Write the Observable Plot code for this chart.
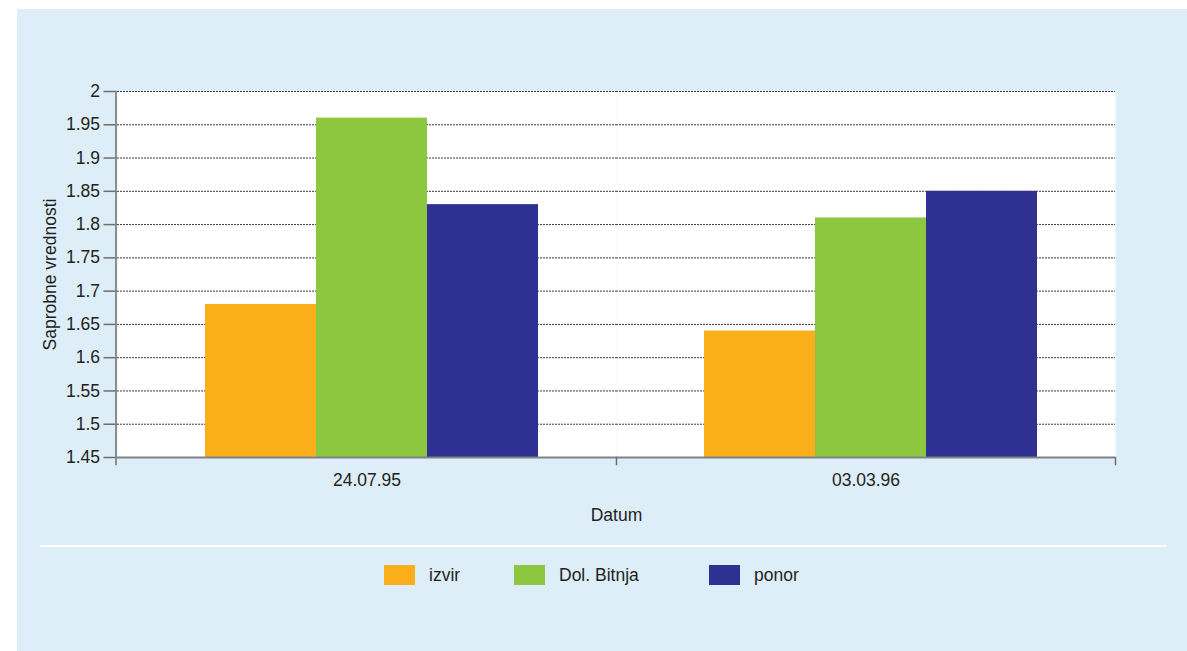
<!DOCTYPE html>
<html>
<head>
<meta charset="utf-8">
<script src="https://cdn.jsdelivr.net/npm/d3@7"></script>
<script src="https://cdn.jsdelivr.net/npm/@observablehq/plot@0.6"></script>
<style>
  html, body { margin: 0; padding: 0; background: #ffffff; }
  body { width: 1187px; height: 651px; position: relative;
         font-family: "Liberation Sans", Arial, sans-serif; color: #231f20; }
  #panel { position: absolute; left: 17px; top: 9px; width: 1170px; height: 642px; background: #ddeef8; }
  #chart { position: absolute; left: 0; top: 0; width: 1187px; height: 540px; }
  #chart svg { overflow: visible; }
  #rule { position: absolute; left: 40px; top: 545px; width: 1126px; height: 2px; background: #ffffff; }
  #legend { position: absolute; left: 384px; top: 562px; display: flex; align-items: center;
            font-size: 17.5px; line-height: 26px; }
  #legend .item { display: flex; align-items: center; }
  #legend .swatch { width: 31px; height: 20px; margin-right: 14px; flex: none; }
</style>
</head>
<body>
<div id="panel"></div>
<div id="chart"></div>
<div id="rule"></div>
<div id="legend"></div>
<script>
// Saprobic index values per sampling date and site
const dates = ["24.07.95", "03.03.96"];
const series = ["izvir", "Dol. Bitnja", "ponor"];
const izvir = [1.68, 1.64];
const dolBitnja = [1.96, 1.81];
const ponor = [1.83, 1.85];
const colors = ["#f9ae1a", "#8dc63f", "#2e3192"];
const yTicks = [1.45, 1.5, 1.55, 1.6, 1.65, 1.7, 1.75, 1.8, 1.85, 1.9, 1.95, 2];
const yBase = 1.45;

const valuesBySeries = [izvir, dolBitnja, ponor];
const rows = [];
dates.forEach((date, i) => {
  series.forEach((s, j) => rows.push({date, series: s, value: valuesBySeries[j][i]}));
});

const width = 1187, height = 540;
const margin = {top: 91, right: 72, bottom: 83, left: 116};
const innerHeight = height - margin.top - margin.bottom;
const axisColor = "#6d6e70";

const chart = Plot.plot({
  width, height,
  marginTop: margin.top, marginRight: margin.right,
  marginBottom: margin.bottom, marginLeft: margin.left,
  style: {background: "transparent", fontFamily: "'Liberation Sans', Arial, sans-serif",
          fontSize: "17.5px", color: "#231f20", overflow: "visible"},
  fx: {domain: dates, padding: 0},
  // bar groups sit slightly right of the category centre
  x: {domain: series, paddingInner: 0, paddingOuter: 0.74, align: 0.53, axis: null},
  y: {domain: [yBase, 2]},
  color: {domain: series, range: colors},
  marks: [
    Plot.frame({fill: "white"}),
    Plot.gridY(yTicks.filter(t => t !== yBase), {stroke: "#3a3a3a", strokeOpacity: 1, strokeDasharray: "2,1"}),
    Plot.barY(rows, {fx: "date", x: "series", y1: yBase, y2: "value", fill: "series"}),
    Plot.ruleY([yBase], {stroke: "#808285", strokeWidth: 2}),
    // vertical value axis line, reaching slightly below the category axis
    Plot.frame({anchor: "left", facetAnchor: "left", stroke: axisColor, strokeWidth: 1.5, insetBottom: -7, dx: -1.5}),
    // category boundary ticks
    Plot.frame({anchor: "right", stroke: axisColor, strokeWidth: 1.5, insetTop: innerHeight, insetBottom: -7}),
    Plot.axisY(yTicks, {
      tickSize: 12, tickPadding: 4, stroke: axisColor, strokeWidth: 1.5, dx: -1.5,
      tickFormat: d => String(d),
      label: "Saprobne vrednosti", labelAnchor: "center", labelOffset: 74, labelArrow: false
    }),
    Plot.axisFx({
      anchor: "bottom", tickSize: 0, tickPadding: 16,
      label: "Datum", labelAnchor: "center", labelOffset: 63, labelArrow: false
    })
  ]
});
document.getElementById("chart").appendChild(chart);

// Legend
const legend = document.getElementById("legend");
const itemWidths = [130, 195, null];
series.forEach((s, i) => {
  const item = document.createElement("div");
  item.className = "item";
  if (itemWidths[i]) item.style.width = itemWidths[i] + "px";
  const sw = document.createElement("div");
  sw.className = "swatch";
  sw.style.background = colors[i];
  const label = document.createElement("span");
  label.textContent = s;
  item.appendChild(sw);
  item.appendChild(label);
  legend.appendChild(item);
});
</script>
</body>
</html>
